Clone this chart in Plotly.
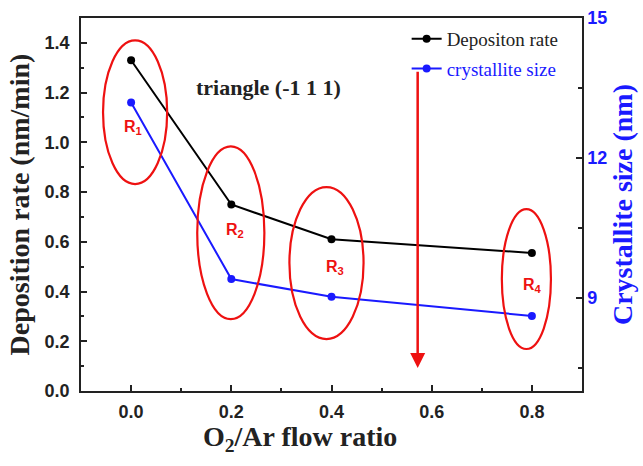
import plotly.graph_objects as go

# ---- data ----
ratio = [0.0, 0.2, 0.4, 0.8]
dep_rate = [1.33, 0.75, 0.61, 0.555]
cryst_size = [13.19, 9.40, 9.02, 8.61]

# region ellipses (x0, x1, y0, y1) in left-axis data units, and labels
region_labels = ["R<sub>1</sub>", "R<sub>2</sub>", "R<sub>3</sub>", "R<sub>4</sub>"]
ellipse_x0 = [-0.056, 0.132, 0.316, 0.740]
ellipse_x1 = [0.072, 0.266, 0.464, 0.838]
ellipse_y0 = [0.832, 0.289, 0.209, 0.169]
ellipse_y1 = [1.410, 0.984, 0.820, 0.731]
label_x = [0.004, 0.208, 0.406, 0.802]
label_y = [1.06, 0.647, 0.498, 0.426]

arrow_x = 0.572
arrow_y_start = 1.29
arrow_y_end = 0.092

note_text = "triangle (-1 1 1)"
x_title = "O<sub>2</sub>/Ar flow ratio"

SERIF = "Liberation Serif, Times New Roman, serif"
SANS = "Liberation Sans, Arial, sans-serif"
BLUE = "#1a1aff"
RED = "#ee1111"
INK = "#222"

fig = go.Figure()
fig.add_trace(go.Scatter(
    x=ratio, y=dep_rate, mode="lines+markers", name="Depositon rate",
    line=dict(color="black", width=2), marker=dict(color="black", size=8),
    legendgroup="a"))
fig.add_trace(go.Scatter(
    x=ratio, y=cryst_size, mode="lines+markers",
    name="<span style='color:%s'>crystallite size</span>" % BLUE,
    line=dict(color=BLUE, width=2), marker=dict(color=BLUE, size=8),
    yaxis="y2", legendgroup="b"))

shapes = []
for x0, x1, y0, y1 in zip(ellipse_x0, ellipse_x1, ellipse_y0, ellipse_y1):
    shapes.append(dict(type="circle", xref="x", yref="y", x0=x0, x1=x1, y0=y0, y1=y1,
                       line=dict(color=RED, width=2.2)))

annotations = []
for lx, ly, t in zip(label_x, label_y, region_labels):
    annotations.append(dict(x=lx, y=ly, xref="x", yref="y", text="<b>%s</b>" % t, showarrow=False,
                            font=dict(family=SANS, size=16, color=RED)))
annotations.append(dict(x=0.274, y=1.22, xref="x", yref="y", text="<b>%s</b>" % note_text,
                        showarrow=False, font=dict(family=SERIF, size=22, color=INK)))
annotations.append(dict(x=arrow_x, y=arrow_y_end, ax=arrow_x, ay=arrow_y_start,
                        xref="x", yref="y", axref="x", ayref="y", text="",
                        showarrow=True, arrowhead=2, arrowsize=1.2, arrowwidth=2.5,
                        arrowcolor=RED))
# x-axis title (placed slightly left of centre, as in the reference)
annotations.append(dict(x=0.437, y=-0.128, xref="paper", yref="paper", text="<b>%s</b>" % x_title,
                        showarrow=False, yanchor="middle",
                        font=dict(family=SERIF, size=28, color=INK)))

tick_font = dict(family=SANS, size=18, color=INK)
title_font = dict(family=SERIF, size=28, color=INK)
left_vals = [0.0, 0.2, 0.4, 0.6, 0.8, 1.0, 1.2, 1.4]
x_vals = [0.0, 0.2, 0.4, 0.6, 0.8]
right_vals = [9, 12, 15]

fig.update_layout(
    width=643, height=466,
    margin=dict(l=81, r=61, t=18, b=75, autoexpand=False),
    paper_bgcolor="white", plot_bgcolor="white",
    shapes=shapes, annotations=annotations,
    showlegend=True,
    legend=dict(x=0.65, y=0.995, xanchor="left", yanchor="top",
                bgcolor="rgba(0,0,0,0)", font=dict(family=SERIF, size=19, color=INK),
                tracegroupgap=2),
    xaxis=dict(range=[-0.1, 0.9], tickvals=x_vals,
               ticktext=["<b>%.1f</b>" % v for v in x_vals],
               ticks="inside", ticklen=6, tickwidth=1.5, tickcolor=INK,
               minor=dict(dtick=0.1, tick0=0, ticks="inside", ticklen=3, tickcolor=INK),
               showline=True, linecolor=INK, linewidth=1.5, mirror=True,
               showgrid=False, zeroline=False, automargin=False,
               tickfont=tick_font, ticklabelstandoff=4),
    yaxis=dict(range=[0, 1.5], tickvals=left_vals,
               ticktext=["<b>%.1f</b>" % v for v in left_vals],
               ticks="inside", ticklen=6, tickwidth=1.5, tickcolor=INK,
               minor=dict(dtick=0.1, tick0=0, ticks="inside", ticklen=3, tickcolor=INK),
               showline=True, linecolor=INK, linewidth=1.5,
               showgrid=False, zeroline=False, automargin=False,
               tickfont=tick_font, ticklabelstandoff=6,
               title=dict(text="<b>Deposition rate (nm/min)</b>",
                          font=title_font, standoff=7)),
    yaxis2=dict(range=[7, 15], overlaying="y", side="right",
                tickvals=right_vals, ticktext=["<b>%d</b>" % v for v in right_vals],
                ticks="inside", ticklen=6, tickwidth=1.5, tickcolor=INK,
                minor=dict(dtick=1.5, tick0=0, ticks="inside", ticklen=4, tickcolor=INK),
                showline=True, linecolor=INK, linewidth=1.5,
                showgrid=False, zeroline=False, automargin=False,
                tickfont=dict(family=SANS, size=18, color=BLUE),
                title=dict(text="<b>Crystallite size (nm)</b>",
                           font=dict(family=SERIF, size=28, color=BLUE), standoff=2)),
)

fig.write_html("out.html", config={"displayModeBar": False},
               post_script="document.body.style.margin='0';")
